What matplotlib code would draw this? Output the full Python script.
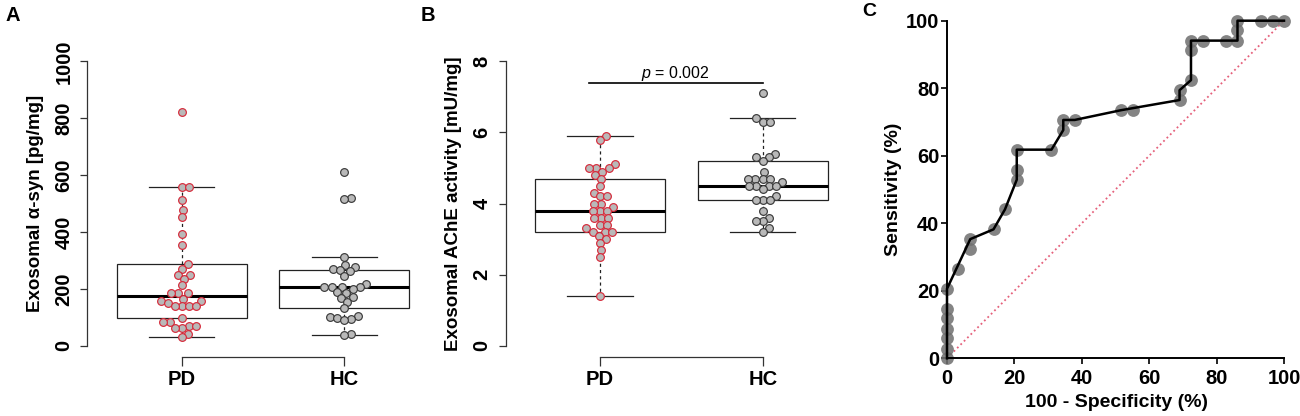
import numpy as np
import matplotlib
matplotlib.use("Agg")
import matplotlib.pyplot as plt

plt.rcParams['font.family'] = ['Liberation Sans', 'DejaVu Sans']
plt.rcParams['mathtext.fontset'] = 'custom'
plt.rcParams['mathtext.it'] = 'Liberation Sans:italic'
plt.rcParams['mathtext.rm'] = 'Liberation Sans'

groups = ["PD", "HC"]

# panel A: exosomal alpha-syn (pg/mg)
syn_pd = [823, 557, 557, 511, 476, 451, 394, 353, 286, 271, 247, 247, 236, 212,
          184, 184, 184, 165, 157, 157, 149, 140, 140, 140, 140, 96, 82, 82,
          68, 68, 62, 62, 40, 29]
syn_hc = [611, 519, 515, 312, 284, 278, 271, 266, 262, 245, 217, 206, 206, 205,
          205, 198, 188, 186, 170, 168, 154, 131, 104, 100, 98, 95, 91, 42, 36]

# panel B: exosomal AChE activity (mU/mg)
ache_pd = [5.9, 5.8, 5.1, 5.0, 5.0, 5.0, 4.9, 4.8, 4.7, 4.5, 4.3, 4.2, 4.2, 4.0,
           4.0, 3.9, 3.8, 3.8, 3.8, 3.6, 3.6, 3.6, 3.4, 3.4, 3.3, 3.2, 3.2, 3.2,
           3.1, 3.0, 2.9, 2.7, 2.5, 1.4]
ache_hc = [7.1, 6.4, 6.3, 6.3, 5.4, 5.3, 5.3, 5.2, 4.9, 4.7, 4.7, 4.7, 4.7, 4.6,
           4.5, 4.5, 4.5, 4.5, 4.4, 4.2, 4.1, 4.1, 4.1, 3.8, 3.6, 3.5, 3.5, 3.3, 3.2]
p_text = "$p$ = 0.002"

# panel C: ROC points (100 - specificity, sensitivity)
roc_fpr = [0, 0, 0, 0, 0, 0, 0, 3.4, 6.9, 6.9, 13.8, 17.2, 20.7, 20.7, 20.7,
           31.0, 34.5, 34.5, 37.9, 51.7, 55.2, 69.0, 69.0, 72.4, 72.4, 72.4,
           75.9, 82.8, 86.2, 86.2, 86.2, 93.1, 96.6, 100]
roc_sens = [0, 2.9, 5.9, 8.8, 11.8, 14.7, 20.6, 26.5, 32.4, 35.3, 38.2, 44.1,
            52.9, 55.9, 61.8, 61.8, 67.6, 70.6, 70.6, 73.5, 73.5, 76.5, 79.4,
            82.4, 91.2, 94.1, 94.1, 94.1, 94.1, 97.1, 100, 100, 100, 100]
# vertices of the drawn curve
curve_fpr = [0, 0, 6.9, 13.8, 17.2, 20.7, 20.7, 31.0, 34.5, 34.5, 37.9, 51.7,
             69.0, 69.0, 72.4, 72.4, 86.2, 86.2, 100]
curve_sens = [0, 20.6, 35.3, 38.2, 44.1, 52.9, 61.8, 61.8, 67.6, 70.6, 70.6,
              73.5, 76.5, 79.4, 82.4, 94.1, 94.1, 100, 100]

GREY = "#b9b9b9"
RED = "#d62a3a"
DARK = "#3a3a3a"
W, H = 1300, 416


def fivenum_stats(v):
    # R style boxplot stats (Tukey hinges)
    s = np.sort(np.asarray(v, float))
    n = len(s)
    n4 = np.floor((n + 3) / 2) / 2
    idx = np.array([1, n4, (n + 1) / 2, n + 1 - n4, n]) - 1
    f = 0.5 * (s[np.floor(idx).astype(int)] + s[np.ceil(idx).astype(int)])
    iqr = f[3] - f[1]
    lo = s[s >= f[1] - 1.5 * iqr].min()
    hi = s[s <= f[3] + 1.5 * iqr].max()
    return dict(whislo=lo, q1=f[1], med=f[2], q3=f[3], whishi=hi, fliers=[])


def swarm(ax, xc, vals, d):
    # simple beeswarm (ascending priority), computed in pixels
    disp = ax.transData.transform(np.column_stack([np.full(len(vals), xc), vals]))
    ys = disp[:, 1]
    x0 = disp[0, 0]
    px, py = [], []
    offs = np.zeros(len(vals))
    for i in np.argsort(ys, kind="stable"):
        cands = [0.0]
        for a, b in zip(px, py):
            dy = ys[i] - b
            if abs(dy) < d:
                dx = np.sqrt(d * d - dy * dy)
                cands += [a + dx, a - dx]
        cands.sort(key=lambda c: (round(abs(c), 4), -c))
        for c in cands:
            if all((c - a) ** 2 + (ys[i] - b) ** 2 >= d * d - 1e-6 for a, b in zip(px, py)):
                break
        px.append(c)
        py.append(ys[i])
        offs[i] = c
    back = ax.transData.inverted().transform(np.column_stack([x0 + offs, ys]))
    return back[:, 0]


def box_panel(ax, pd_vals, hc_vals, ymax, ystep, ylabel):
    pad = 0.04 * ymax
    ax.set_xlim(0.42, 2.58)
    ax.set_ylim(-pad, ymax + pad)
    stats = [fivenum_stats(pd_vals), fivenum_stats(hc_vals)]
    ax.bxp(stats, positions=[1, 2], widths=0.8, capwidths=0.4, showfliers=False,
           patch_artist=True,
           boxprops=dict(facecolor="white", edgecolor="#222222", linewidth=0.9),
           medianprops=dict(color="black", linewidth=2.2),
           whiskerprops=dict(color="#222222", linewidth=0.9, linestyle=(0, (2.5, 2.5))),
           capprops=dict(color="#222222", linewidth=0.9))
    for pos, vals, ec in [(1, pd_vals, RED), (2, hc_vals, DARK)]:
        xs = swarm(ax, pos, vals, 7.2)
        ax.scatter(xs, vals, s=31, facecolor=GREY, edgecolor=ec, linewidth=0.85,
                   zorder=4, clip_on=False)
    for s in ["top", "right"]:
        ax.spines[s].set_visible(False)
    ax.spines["left"].set_bounds(0, ymax)
    ax.spines["bottom"].set_bounds(1, 2)
    for s in ["left", "bottom"]:
        ax.spines[s].set_color("#333333")
        ax.spines[s].set_linewidth(0.9)
    ax.set_yticks(np.arange(0, ymax + ystep / 2, ystep))
    ax.set_yticklabels([f"{v:g}" for v in np.arange(0, ymax + ystep / 2, ystep)],
                       rotation=90, va="center", fontsize=14.5, fontweight="bold")
    ax.set_xticks([1, 2])
    ax.set_xticklabels(groups, fontsize=14.5, fontweight="bold")
    ax.tick_params(axis="y", length=5, width=0.9, color="#333333", pad=5)
    ax.tick_params(axis="x", length=6.5, width=0.9, color="#333333", pad=3)
    ax.text(-0.149, 0.5, ylabel, transform=ax.transAxes, rotation=90, ha="center",
            va="center", fontsize=13.5, fontweight="bold")


fig = plt.figure(figsize=(13, 4.16), dpi=100)

axA = fig.add_axes([87.4 / W, (H - 357.1) / H, 351.2 / W, 307.2 / H])
box_panel(axA, syn_pd, syn_hc, 1000, 200, "Exosomal α-syn [pg/mg]")

axB = fig.add_axes([505.6 / W, (H - 357.1) / H, 351.5 / W, 307.2 / H])
box_panel(axB, ache_pd, ache_hc, 8, 2, "Exosomal AChE activity [mU/mg]")
axB.plot([0.93, 2.0], [7.38, 7.38], color="black", linewidth=1.2)
axB.text(1.465, 7.66, p_text, ha="center", va="center", fontsize=11.5)

axC = fig.add_axes([947 / W, (H - 358.3) / H, 337 / W, 337.6 / H])
axC.set_xlim(0, 100)
axC.set_ylim(0, 100)
axC.plot([0, 100], [0, 100], color="#e5607b", linestyle=":", linewidth=1.3, zorder=1)
axC.scatter(roc_fpr, roc_sens, s=85, color="#6f6f6f", alpha=0.85, linewidth=0,
            zorder=2, clip_on=False)
axC.plot(curve_fpr, curve_sens, color="black", linewidth=1.8, zorder=3, clip_on=False)
for s in ["top", "right"]:
    axC.spines[s].set_visible(False)
for s in ["left", "bottom"]:
    axC.spines[s].set_linewidth(1.4)
axC.set_xticks(np.arange(0, 101, 20))
axC.set_yticks(np.arange(0, 101, 20))
for lab in axC.get_xticklabels() + axC.get_yticklabels():
    lab.set_fontweight("bold")
    lab.set_fontsize(14.5)
axC.tick_params(axis="both", length=4, width=1.2)
axC.tick_params(axis="y", pad=1.5)
axC.tick_params(axis="x", pad=3.5)
axC.text(-0.16, 0.5, "Sensitivity (%)", transform=axC.transAxes, rotation=90,
         ha="center", va="center", fontsize=14, fontweight="bold")
axC.text(0.504, -0.132, "100 - Specificity (%)", transform=axC.transAxes,
         ha="center", va="center", fontsize=14, fontweight="bold")

fig.text(5 / W, 1 - 20.7 / H, "A", fontsize=14.5, fontweight="bold", va="baseline")
fig.text(421 / W, 1 - 20.7 / H, "B", fontsize=14.5, fontweight="bold", va="baseline")
fig.text(862 / W, 1 - 16 / H, "C", fontsize=14, fontweight="bold", va="baseline")

fig.savefig("out.png", dpi=100)
